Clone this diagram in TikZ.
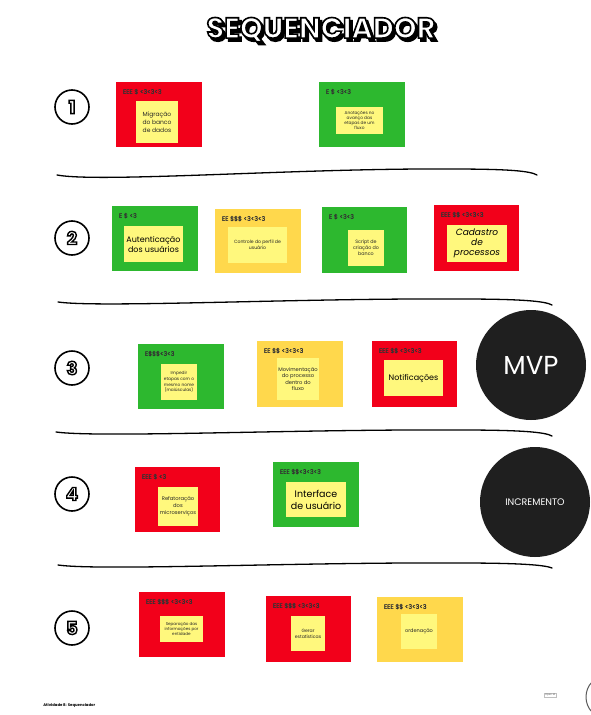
\documentclass[tikz,border=0pt]{standalone}
\usepackage{fontspec}
\setmainfont{Poppins}
\newfontfamily\headfont[FakeBold=0.7]{Poppins}
\definecolor{cardred}{HTML}{F2001A}
\definecolor{cardgreen}{HTML}{2DB82F}
\definecolor{cardyellow}{HTML}{FFD84C}
\definecolor{notecol}{HTML}{FFF87D}
\definecolor{circdark}{HTML}{1F1F1F}
% white letters with a black rim
\newcommand\rimtext[2]{\special{pdf:literal direct 2 Tr #1 w 0 G}#2\special{pdf:literal direct 0 Tr}}
% same, with a black drop shadow
\newcommand\shadowtext[1]{\makebox[0pt][l]{\kern2.5pt\raisebox{-3pt}{\color{black}\rimtext{1.6}{#1}}}\rimtext{1.6}{#1}}

\begin{document}
\begin{tikzpicture}[x=1pt,y=-1pt,line width=0.75pt,
  card/.style={rectangle,inner sep=0pt},
  head/.style={anchor=west,inner sep=0pt,text=black!80,
    font=\headfont\fontsize{6.3}{7}\selectfont},
  note/.style={rectangle,inner sep=0pt,fill=notecol,align=center,text=black!85},
  noteplain/.style={},
  handtxt/.style={text=black},
  stepnum/.style={circle,draw,line width=1.6pt,minimum size=34pt,inner sep=0pt,
    font=\fontsize{18}{18}\bfseries\selectfont},
  goal/.style={circle,fill=circdark,text=white,minimum size=110pt,inner sep=0pt},
  titletxt/.style={inner sep=0pt,font=\fontsize{29}{29}\bfseries\selectfont},
  divider/.style={line width=1.3pt,line cap=round}]
  \fill[white] (0,0) rectangle (590,715);
  \useasboundingbox (0,0) rectangle (590,715);

  % title
  \node[titletxt,text=white] (title) at (321,31) {\shadowtext{SEQUENCIADOR}};

  % steps
  \foreach \k/\y in {1/107,2/238,3/368,4/494,5/628}
    \node[stepnum,text=white] (s\k) at (72,\y) {\rimtext{1.4}{\k}};

  \draw[divider] (57,175) .. controls (100,183) and (300,168) .. (450,169)
    .. controls (510,169) and (530,171) .. (537,175);
  \draw[divider] (58,302) .. controls (100,308) and (300,298) .. (460,299)
    .. controls (520,299) and (545,301) .. (552,305);
  \draw[divider] (56,432) .. controls (100,438) and (300,429) .. (460,430)
    .. controls (520,430) and (545,432) .. (552,436);
  \draw[divider] (58,565) .. controls (100,571) and (300,562) .. (460,563)
    .. controls (520,563) and (545,565) .. (552,568);

  % cards
  \foreach \n/\cx/\cy/\w/\h/\col/\hd in {
      a1/159/114.5/86/65/cardred/{EEE \$ <3<3<3},
      b1/362/114.5/86/65/cardgreen/{E \$ <3<3},
      a2/155/238.5/86/65/cardgreen/{E \$ <3},
      b2/258/241/86/64/cardyellow/{EE \$\$\$ <3<3<3},
      c2/364.5/240/85/66/cardgreen/{E \$ <3<3},
      d2/476.5/238/85/66/cardred/{EEE \$\$ <3<3<3},
      a3/181/376.5/86/65/cardgreen/{E\$\$\$<3<3},
      b3/300/374/86/66/cardyellow/{EE \$\$ <3<3<3},
      c3/414.5/374/85/66/cardred/{EEE \$\$ <3<3<3},
      a4/177.5/499.5/85/65/cardred/{EEE \$ <3},
      b4/316/494.5/86/65/cardgreen/{EEE \$\$<3<3<3},
      a5/182/624.5/86/65/cardred/{EEE \$\$\$ <3<3<3},
      b5/308.5/629/85/66/cardred/{EEE \$\$\$ <3<3<3},
      c5/420/629.5/86/65/cardyellow/{EEE \$\$ <3<3<3}} {
    \node[card,fill=\col,minimum width=\w,minimum height=\h] (\n) at (\cx,\cy) {};
    \node[head,xshift=7pt,yshift=-10pt] at (\n.north west) {\hd};
  }

  \foreach \n/\nx/\ny/\nw/\nh/\fs/\ls/\st/\txt in {
      a1/157/122/42/42/6/7.8/noteplain/{Migração\\do banco\\de dados},
      b1/359.5/120.5/47/27/4.3/5/noteplain/{Anotações no\\avanço das\\etapas de um\\fluxo},
      a2/153.5/244/59/36/8/10/handtxt/{Autenticação\\dos usuários},
      b2/257.5/245/59/36/4.6/6.2/noteplain/{Controle do perfil de\\usuário},
      c2/366/248/36/36/4.8/6/noteplain/{Script de\\criação do\\banco},
      d2/477/243.5/60/37/9/10/handtxt/{\itshape Cadastro\\\itshape de\\\itshape processos},
      a3/179/382/36/36/4.3/5.6/noteplain/{Impedir\\etapas com o\\mesmo nome\\(maiúsculas)},
      b3/298/379/42/42/5.2/6.6/noteplain/{Movimentação\\do processo\\dentro do\\fluxo},
      c3/413.5/378/59/36/8/10/handtxt/{Notificações},
      a4/178/506.5/40/39/5.2/7/noteplain/{Refatoração\\dos\\microserviços},
      b4/316/499.5/60/35/9.5/12/handtxt/{Interface\\de usuário},
      a5/181.5/629/43/26/4.1/5.2/noteplain/{Separação das\\informações por\\entidade},
      b5/308/633.5/34/35/4.6/6.2/noteplain/{Gerar\\estatísticas},
      c5/419/631.5/36/35/5/6/noteplain/{ordenação}} {
    \node[note,\st,minimum width=\nw,minimum height=\nh,
      font=\fontsize{\fs}{\ls}\selectfont] (n\n) at (\nx,\ny) {\txt};
  }

  % goals
  \node[goal,font=\fontsize{26}{26}\selectfont] (mvp) at (531,365) {MVP};
  \node[goal,font=\fontsize{9.5}{10}\selectfont] (incr) at (535,502) {INCREMENTO};

  % footer
  \node[anchor=west,inner sep=0pt,font=\fontsize{3.8}{4}\bfseries\selectfont]
    (footer) at (43,705) {Atividade 8: Sequenciador};
  \node[draw=black!25,line width=0.3pt,inner sep=0.8pt,text=black!60,
    font=\fontsize{2.6}{3}\selectfont] (openm) at (550,695) {Open M};
  \draw[black!65,line width=1pt] (592,682) .. controls (584,690) and (584,704) .. (592,712);
\end{tikzpicture}
\end{document}
